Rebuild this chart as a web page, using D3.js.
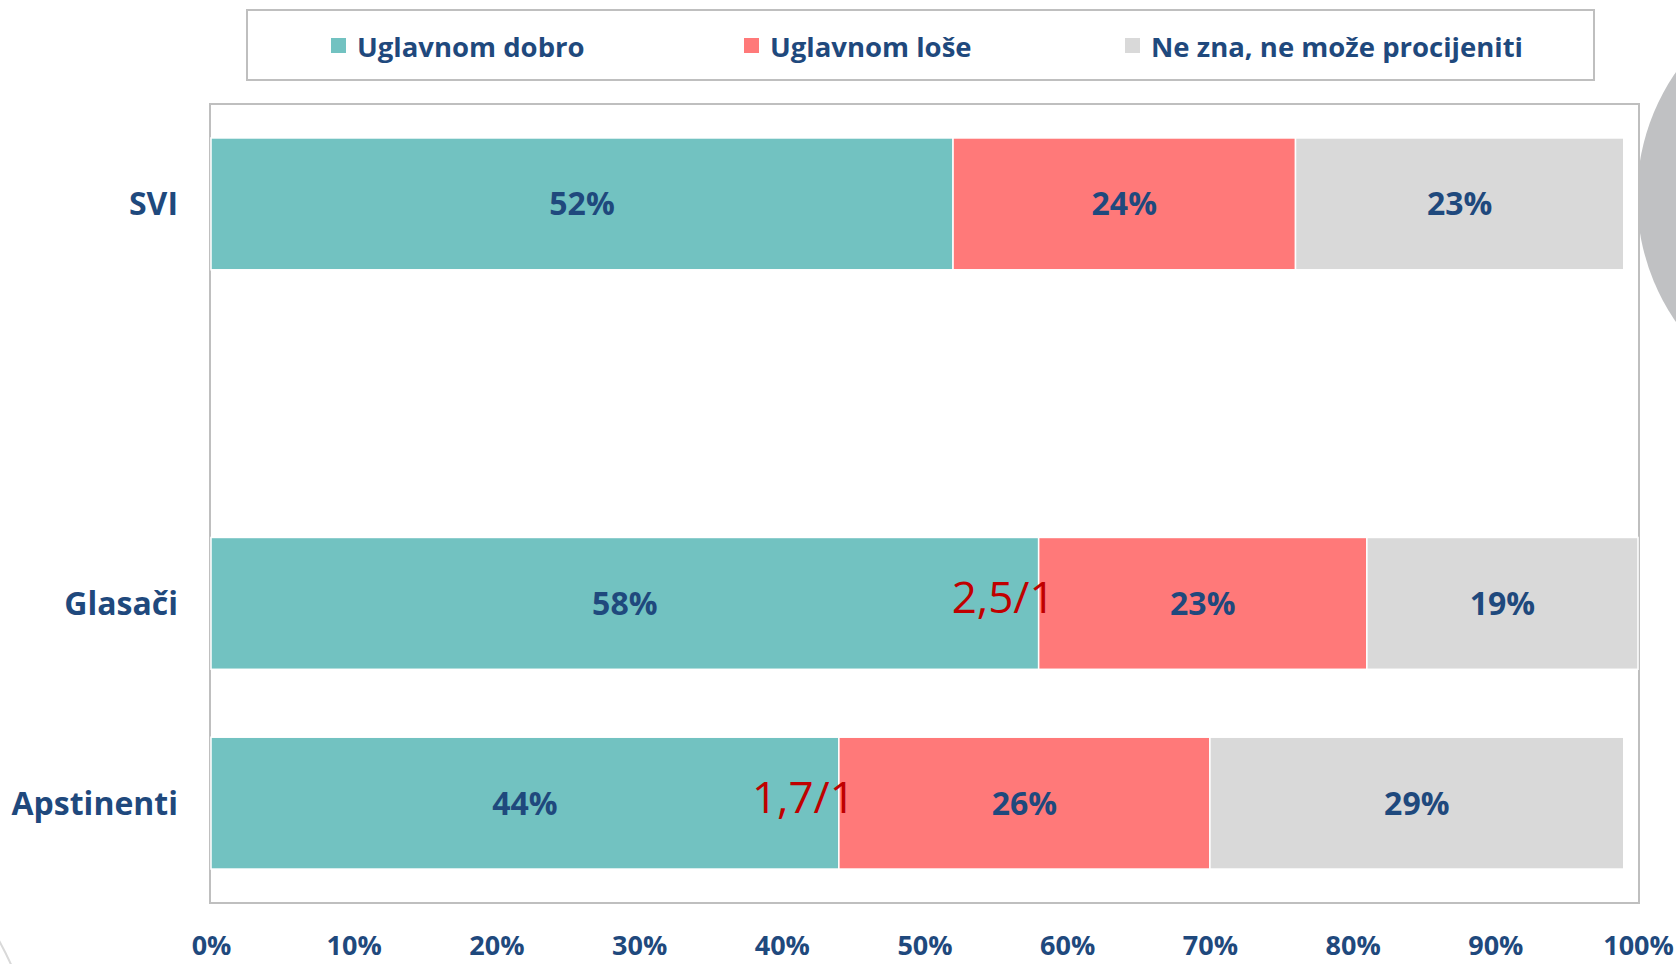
<!DOCTYPE html>
<html>
<head>
<meta charset="utf-8">
<script src="https://cdn.jsdelivr.net/npm/d3@7"></script>
<style>
  body { margin: 0; background: #fff; }
  text { font-family: "Open Sans", sans-serif; }
</style>
</head>
<body>
<div class="chart"></div>
<script>
// categories (blank one is the empty gap between SVI and Glasači)
const categories = ["SVI", "", "Glasači", "Apstinenti"];
const seriesNames = ["Uglavnom dobro", "Uglavnom loše", "Ne zna, ne može procijeniti"];
const dobro = [52, null, 58, 44];
const lose = [24, null, 23, 26];
const neZna = [23, null, 19, 29];
const ratios = ["", "", "2,5/1", "1,7/1"];
const tickValues = [0, 10, 20, 30, 40, 50, 60, 70, 80, 90, 100];

const colors = ["#72c2c1", "#ff7979", "#d9d9d9"];
const labelColor = "#1f497d";

const W = 1676, H = 964;
const plot = { left: 211, right: 1638, top: 104, bottom: 903 };

const svg = d3.select('.chart')
  .append('svg')
  .attr('width', W)
  .attr('height', H);

// decorative circles
svg.append('circle')
  .attr('cx', 1857).attr('cy', 197).attr('r', 220)
  .attr('fill', '#c0c1c3');
svg.append('circle')
  .attr('cx', -294).attr('cy', 1103).attr('r', 335)
  .attr('fill', 'none').attr('stroke', '#d9d9d9').attr('stroke-width', 2);

const xScale = d3.scaleLinear()
  .domain([0, 100])
  .range([plot.left, plot.right]);

const yScale = d3.scaleBand()
  .domain(categories)
  .range([plot.top, plot.bottom])
  .paddingInner(0.34)
  .paddingOuter(0.17);

// plot area frame
svg.append('rect')
  .attr('x', plot.left - 1).attr('y', plot.top)
  .attr('width', plot.right - plot.left + 2)
  .attr('height', plot.bottom - plot.top)
  .attr('fill', '#fff')
  .attr('stroke', '#bfbfbf')
  .attr('stroke-width', 2);

// stack the series
const rows = categories.map((c, i) => ({ cat: c, v: [dobro[i], lose[i], neZna[i]] }))
  .filter(d => d.v[0] != null);
const segs = [];
rows.forEach(r => {
  let acc = 0;
  r.v.forEach((v, k) => {
    segs.push({ cat: r.cat, k: k, x0: acc, x1: acc + v, v: v });
    acc += v;
  });
});

svg.selectAll('rect.seg')
  .data(segs)
  .enter()
  .append('rect')
  .attr('class', 'seg')
  .attr('x', d => xScale(d.x0))
  .attr('y', d => yScale(d.cat))
  .attr('width', d => xScale(d.x1) - xScale(d.x0))
  .attr('height', yScale.bandwidth())
  .attr('fill', d => colors[d.k])
  .attr('stroke', '#fff')
  .attr('stroke-width', 1.5);

svg.selectAll('text.val')
  .data(segs)
  .enter()
  .append('text')
  .attr('class', 'val')
  .attr('x', d => (xScale(d.x0) + xScale(d.x1)) / 2)
  .attr('y', d => yScale(d.cat) + yScale.bandwidth() / 2)
  .attr('dy', '0.36em')
  .attr('text-anchor', 'middle')
  .attr('font-size', 32)
  .attr('font-weight', 700)
  .attr('fill', labelColor)
  .text(d => d.v + '%');

// ratio notes next to the dobro/lose boundary
svg.selectAll('text.ratio')
  .data(categories.map((c, i) => ({ cat: c, r: ratios[i], d: dobro[i] })).filter(d => d.r))
  .enter()
  .append('text')
  .attr('class', 'ratio')
  .attr('x', d => xScale(d.d) + 16)
  .attr('y', d => yScale(d.cat) + yScale.bandwidth() / 2)
  .attr('dy', '0.22em')
  .attr('text-anchor', 'end')
  .attr('font-size', 44)
  .attr('fill', '#c00000')
  .text(d => d.r);

// category labels
svg.selectAll('text.cat')
  .data(categories.filter(c => c))
  .enter()
  .append('text')
  .attr('class', 'cat')
  .attr('x', 178)
  .attr('y', d => yScale(d) + yScale.bandwidth() / 2)
  .attr('dy', '0.36em')
  .attr('text-anchor', 'end')
  .attr('font-size', 32)
  .attr('font-weight', 700)
  .attr('fill', labelColor)
  .text(d => d);

// x axis
const xAxis = d3.axisBottom(xScale)
  .tickValues(tickValues)
  .tickSize(0)
  .tickFormat(d => d + '%');

svg.append('g')
  .attr('transform', `translate(0, 936)`)
  .call(xAxis)
  .call(g => g.select('.domain').remove())
  .selectAll('text')
  .attr('dy', '0.71em')
  .attr('y', 0)
  .attr('font-size', 27)
  .attr('font-weight', 700)
  .attr('font-family', '"Open Sans", sans-serif')
  .attr('fill', labelColor);

// legend
const legend = svg.append('g');
legend.append('rect')
  .attr('x', 247).attr('y', 10)
  .attr('width', 1347).attr('height', 70)
  .attr('fill', '#fff')
  .attr('stroke', '#bfbfbf')
  .attr('stroke-width', 2);

const legendX = [331, 744, 1125];
const item = legend.selectAll('g.item')
  .data(seriesNames)
  .enter()
  .append('g')
  .attr('transform', (d, i) => `translate(${legendX[i]}, 38)`);
item.append('rect')
  .attr('width', 15).attr('height', 15)
  .attr('fill', (d, i) => colors[i]);
item.append('text')
  .attr('x', 26).attr('y', 9.5)
  .attr('dy', '0.36em')
  .attr('font-size', 27.5)
  .attr('font-weight', 700)
  .attr('fill', labelColor)
  .text(d => d);
</script>
</body>
</html>
